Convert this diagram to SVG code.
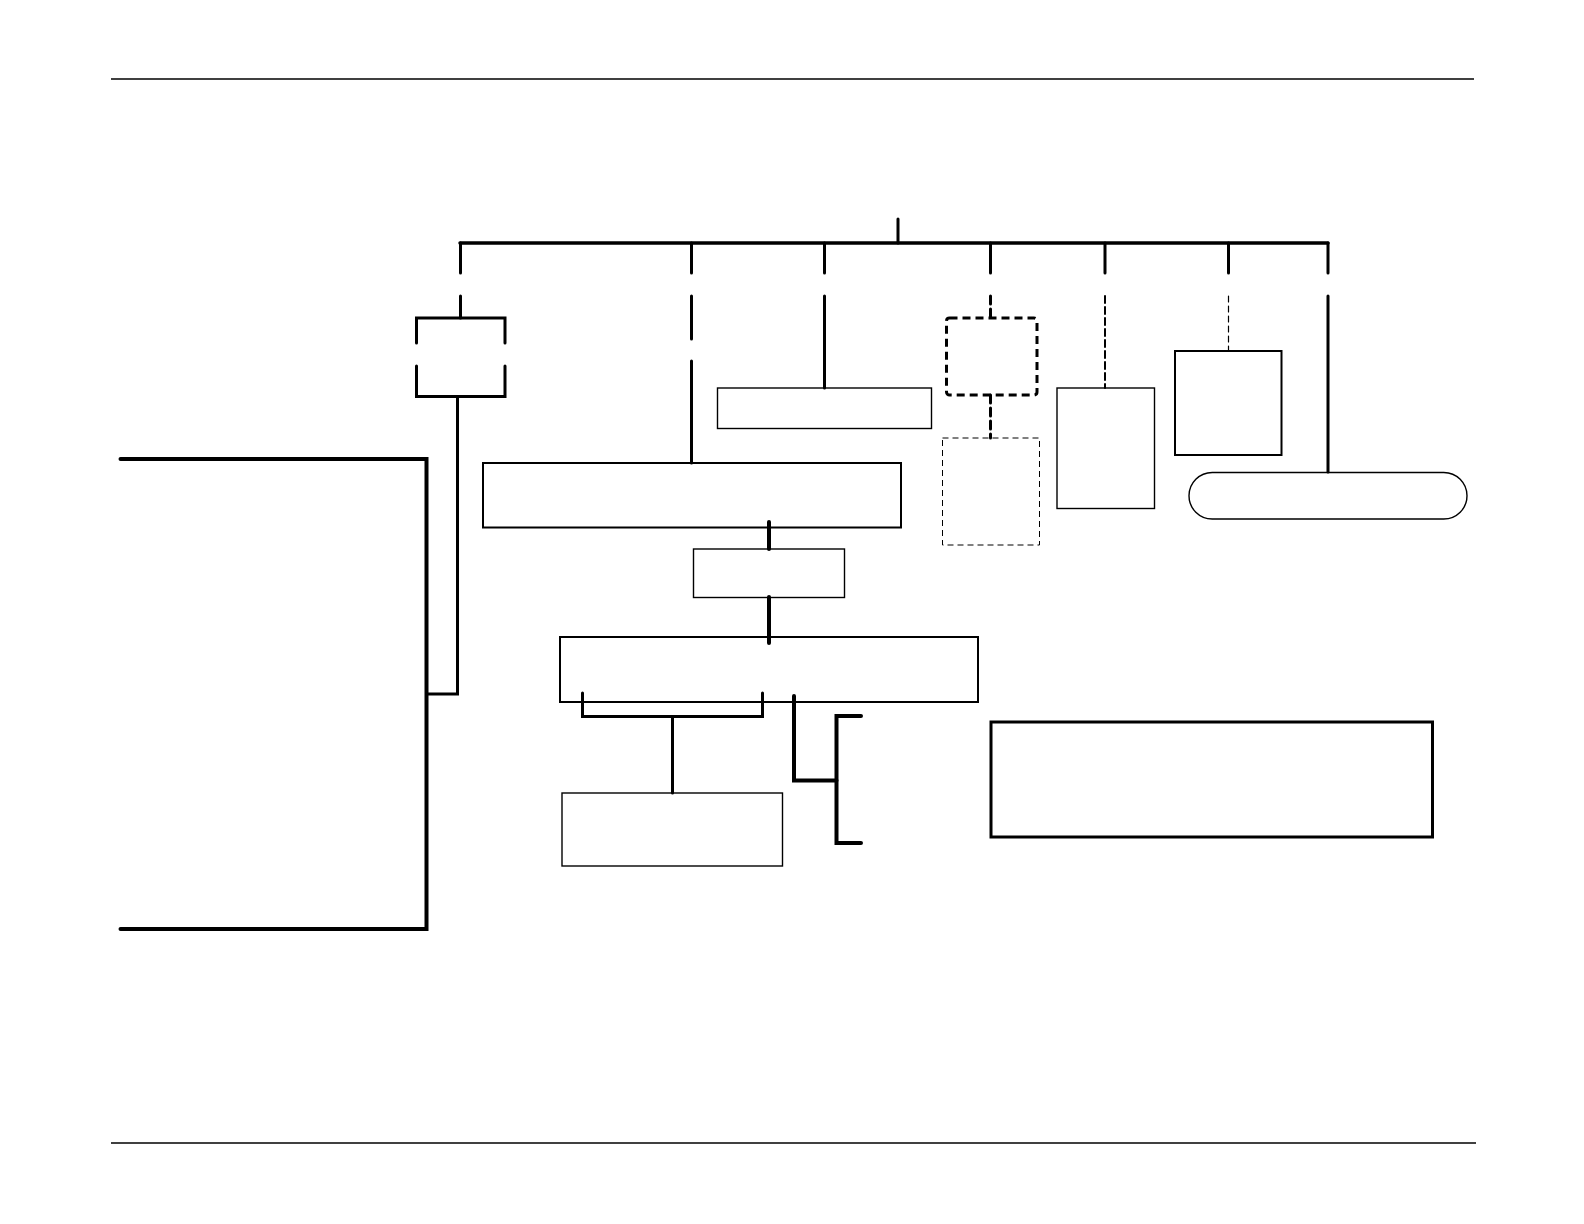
<svg xmlns="http://www.w3.org/2000/svg" width="1584" height="1224" viewBox="0 0 1584 1224">
<style>
.c{fill:none;stroke:#000;stroke-linecap:round;stroke-linejoin:miter}
.bus{stroke-width:3.5}
.th{stroke-width:3}
.tk{stroke-width:4}
.md{stroke-width:2}
.box{fill:#fff;stroke:#000;stroke-width:1.4}
.box2{fill:#fff;stroke:#000;stroke-width:2}
.box3{fill:#fff;stroke:#000;stroke-width:3}
.dk{stroke-dasharray:8 5}
.dm{stroke-dasharray:7 4}
.dt{stroke-dasharray:6 4}
</style>
<rect width="1584" height="1224" fill="#fff"/>
<g id="page-rules">
<line x1="111" y1="79" x2="1474" y2="79" stroke="#000" stroke-width="1.4"/>
<line x1="111" y1="1143" x2="1476" y2="1143" stroke="#000" stroke-width="1.4"/>
</g>
<g id="node-A"><rect class="box" x="717.5" y="388" width="214" height="40.5"/></g>
<g id="node-B"><rect class="box2" x="483" y="463" width="418" height="64.5"/></g>
<g id="node-C-dashed"><rect fill="#fff" stroke="#000" stroke-width="3" class="dk" x="946.5" y="318" width="90.5" height="77" rx="3"/></g>
<g id="node-D-dashed"><rect fill="#fff" stroke="#000" stroke-width="1" class="dt" x="942.5" y="438" width="97" height="107"/></g>
<g id="node-E"><rect class="box" x="1057" y="388" width="97.5" height="120.5"/></g>
<g id="node-F"><rect class="box2" x="1175" y="351" width="106.5" height="104"/></g>
<g id="node-G"><rect class="box" x="1189" y="472.5" width="278" height="46.5" rx="23.25"/></g>
<g id="node-H"><rect class="box" x="693.5" y="549" width="151" height="48.5"/></g>
<g id="node-I"><rect class="box2" x="560" y="637" width="418" height="65"/></g>
<g id="node-J"><rect class="box" x="562" y="793" width="220.5" height="73"/></g>
<g id="node-K"><rect class="box3" x="991" y="722" width="441.5" height="115"/></g>
<g id="connectors">
<line class="c th" x1="898" y1="219" x2="898" y2="243"/>
<line class="c bus" x1="460" y1="243" x2="1328" y2="243"/>
<line class="c th" x1="460.5" y1="243" x2="460.5" y2="273"/>
<line class="c th" x1="691.5" y1="243" x2="691.5" y2="273"/>
<line class="c th" x1="824.5" y1="243" x2="824.5" y2="273"/>
<line class="c th" x1="990.5" y1="243" x2="990.5" y2="273"/>
<line class="c th" x1="1105" y1="243" x2="1105" y2="273"/>
<line class="c th" x1="1228.5" y1="243" x2="1228.5" y2="273"/>
<line class="c th" x1="1328" y1="243" x2="1328" y2="273"/>
<line class="c th" x1="460.5" y1="296" x2="460.5" y2="318"/>
<polyline class="c th" points="416.5,343 416.5,318 505,318 505,343"/>
<polyline class="c th" points="416.5,366 416.5,396.5 505,396.5 505,366"/>
<polyline class="c th" points="457.5,396.5 457.5,694 426.5,694"/>
<polyline class="c tk" points="120.5,459 426.5,459 426.5,929 120.5,929"/>
<line class="c th" x1="691.5" y1="296" x2="691.5" y2="339"/>
<line class="c th" x1="691.5" y1="361" x2="691.5" y2="463"/>
<line class="c th" x1="824.5" y1="296" x2="824.5" y2="388"/>
<line class="c th dk" x1="990.5" y1="296" x2="990.5" y2="318" stroke-linecap="butt"/>
<line class="c th dk" x1="990.5" y1="395" x2="990.5" y2="438" stroke-linecap="butt"/>
<line class="c md dm" x1="1105" y1="296" x2="1105" y2="388" stroke-linecap="butt"/>
<line class="c dt" stroke-width="1.2" x1="1228.5" y1="296" x2="1228.5" y2="351" stroke-linecap="butt"/>
<line class="c th" x1="1328" y1="296" x2="1328" y2="472"/>
<line class="c tk" x1="769" y1="522" x2="769" y2="549"/>
<line class="c tk" x1="769" y1="597" x2="769" y2="643"/>
<polyline class="c th" points="582.5,693 582.5,716.5 762.5,716.5 762.5,693"/>
<line class="c th" x1="672.5" y1="716.5" x2="672.5" y2="793"/>
<polyline class="c tk" points="794,696 794,780.5 836.5,780.5"/>
<polyline class="c tk" points="861,716 836.5,716 836.5,843 861,843"/>
</g>
</svg>
